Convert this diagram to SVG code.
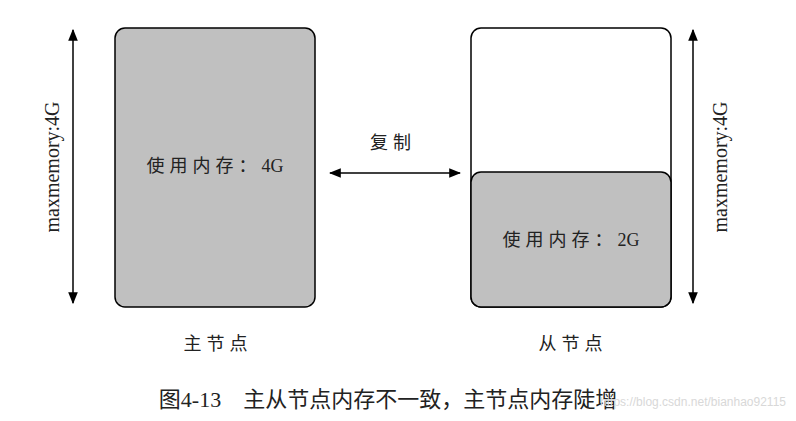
<svg xmlns="http://www.w3.org/2000/svg" width="796" height="421" viewBox="0 0 796 421">
<defs>
<marker id="a" viewBox="0 0 10 10" refX="9" refY="5" markerWidth="8" markerHeight="8" orient="auto-start-reverse"><path d="M0,1 L10,5 L0,9 z" fill="#000"/></marker>
<style>
.t{font-family:"Liberation Serif","Noto Sans CJK SC",serif;fill:#222}
.s{letter-spacing:5px}
.l{stroke:#000;stroke-width:1.5;fill:none}
</style>
</defs>
<rect width="796" height="421" fill="#fff"/>
<g id="master">
<rect x="115" y="28" width="200" height="279" rx="10" fill="#c0c0c0" stroke="#000" stroke-width="1.5"/>
<text class="t" x="215" y="172" font-size="18" text-anchor="middle"><tspan class="s">使用内存：</tspan>4G</text>
<text class="t s" x="218" y="350" font-size="18" text-anchor="middle">主节点</text>
</g>
<g id="slave">
<rect x="471" y="28" width="200" height="279" rx="10" fill="#fff" stroke="#000" stroke-width="1.5"/>
<path d="M471,182 a10,10 0 0 1 10,-10 h180 a10,10 0 0 1 10,10 v115 a10,10 0 0 1 -10,10 h-180 a10,10 0 0 1 -10,-10 z" fill="#c0c0c0" stroke="#000" stroke-width="1.5"/>
<text class="t" x="571" y="246" font-size="18" text-anchor="middle"><tspan class="s">使用内存：</tspan>2G</text>
<text class="t s" x="573" y="350" font-size="18" text-anchor="middle">从节点</text>
</g>
<g id="connectors">
<line class="l" x1="73" y1="30" x2="73" y2="303" marker-start="url(#a)" marker-end="url(#a)"/>
<line class="l" x1="693" y1="30" x2="693" y2="303" marker-start="url(#a)" marker-end="url(#a)"/>
<line class="l" x1="330" y1="173" x2="460" y2="173" marker-start="url(#a)" marker-end="url(#a)"/>
<text class="t s" x="393" y="149" font-size="18" text-anchor="middle">复制</text>
<text class="t" x="59" y="167" font-size="20" text-anchor="middle" transform="rotate(-90 59 167)">maxmemory:4G</text>
<text class="t" x="727" y="167" font-size="20" text-anchor="middle" transform="rotate(-90 727 167)">maxmemory:4G</text>
</g>
<text class="t" x="388" y="407" font-size="22" text-anchor="middle">图4-13　主从节点内存不一致，主节点内存陡增</text>
<text x="786" y="406" font-size="12" text-anchor="end" font-family="Liberation Sans,sans-serif" fill="#d8d8d8">https://blog.csdn.net/bianhao92115</text>
</svg>
